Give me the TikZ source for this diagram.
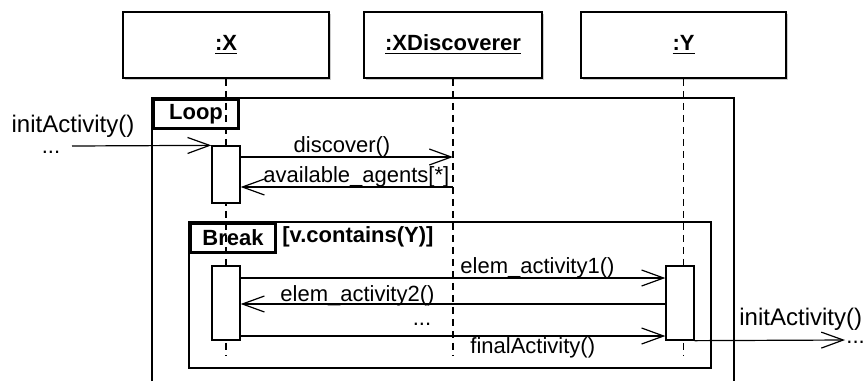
\documentclass[tikz,border=0pt]{standalone}
\usepackage{fontspec}
\setmainfont{Liberation Sans}
\usetikzlibrary{arrows.meta}
\usetikzlibrary{positioning}
\usetikzlibrary{shadows}

\tikzset{
    obj/.style={draw, line width=0.9pt, fill=white, minimum height=33pt, inner sep=0pt,
        font=\bfseries\fontsize{11}{13}\selectfont,
        drop shadow={shadow xshift=0.8pt, shadow yshift=-0.8pt, opacity=0.4}},
    frame/.style={line width=0.65pt},
    tag/.style={draw, line width=1.5pt, minimum width=42.5pt, minimum height=14.5pt, inner sep=0pt,
        anchor=north west, font=\bfseries\fontsize{11}{13}\selectfont},
    life/.style={dash pattern=on 3.5pt off 2.5pt, line width=0.6pt},
    bar/.style={draw, fill=white, line width=0.65pt, minimum width=14pt, inner sep=0pt},
    msg/.style={line width=0.6pt, -{Straight Barb[length=11pt, width=8pt, line width=0.6pt]}},
    lbl/.style={font=\fontsize{11}{13}\selectfont, inner sep=0pt}
}

\begin{document}
\begin{tikzpicture}[x=0.5pt, y=-0.5pt]
    \useasboundingbox (0, 0) rectangle (865, 381);

    \node [obj, minimum width=103pt] (x) at (226, 45) {\underline{:X}};
    \node [obj, minimum width=89pt] (xd) at (453, 45) {\underline{:XDiscoverer}};
    \node [obj, minimum width=102.5pt] (y) at (683.5, 45) {\underline{:Y}};

    % frames
    \draw [frame] (152, 381) -- (152, 98) -- (734, 98) -- (734, 381);
    \node [tag] (loop) at (152, 98) {Loop};

    \draw [frame] (189, 222) rectangle (711, 368);
    \node [tag] (brk) at (189, 222) {Break};
    \node [lbl, font=\bfseries\fontsize{11}{13}\selectfont, anchor=base west] (guard) at (282, 242) {[v.contains(Y)]};

    % lifelines
    \coordinate (xend) at (226, 355);
    \coordinate (xdend) at (453, 355);
    \coordinate (yend) at (683.5, 355);
    \draw [life] (x) -- (xend);
    \draw [life] (xd) -- (xdend);
    \draw [life] (y) -- (yend);

    \node [bar, minimum height=28.5pt] (xa) at (226, 174.5) {};
    \node [bar, minimum height=37pt] (xb) at (226, 303) {};
    \node [bar, minimum height=37pt] (ya) at (680, 303) {};

    % messages
    \coordinate (in) at (72, 146);
    \draw [msg] (in) -- (xa.north west);
    \node [lbl, font=\fontsize{12}{14}\selectfont, anchor=base] (inlbl) at (73, 132) {initActivity()};
    \node [lbl, anchor=base] (indots) at (51, 153) {...};

    \coordinate (disc) at (453, 157);
    \draw [msg] (xa.east |- disc) -- (disc);
    \node [lbl, anchor=base] (disclbl) at (342, 152) {discover()};

    \coordinate (avail) at (453, 187);
    \draw [msg] (avail) -- (xa.east |- avail);
    \node [lbl, anchor=base west] (availlbl) at (263, 182) {available\_agents[*]};

    \coordinate (e1) at (453, 278);
    \draw [msg] (xb.east |- e1) -- (ya.west |- e1);
    \node [lbl, anchor=base west] (e1lbl) at (460, 273) {elem\_activity1()};

    \coordinate (e2) at (453, 304);
    \draw [msg] (ya.west |- e2) -- (xb.east |- e2);
    \node [lbl, anchor=base west] (e2lbl) at (280, 301) {elem\_activity2()};
    \node [lbl, anchor=base] (dots) at (422, 325) {...};

    \coordinate (fin) at (453, 336);
    \draw [msg] (xb.east |- fin) -- (ya.west |- fin);
    \node [lbl, anchor=base west] (finlbl) at (470, 353) {finalActivity()};

    \coordinate (out) at (845, 340);
    \draw [msg] (ya.south east) -- (out);
    \node [lbl, font=\fontsize{12}{14}\selectfont, anchor=base west] (outlbl) at (739, 325) {initActivity()};
    \node [lbl, anchor=base west] (outdots) at (846, 343) {...};
\end{tikzpicture}
\end{document}
